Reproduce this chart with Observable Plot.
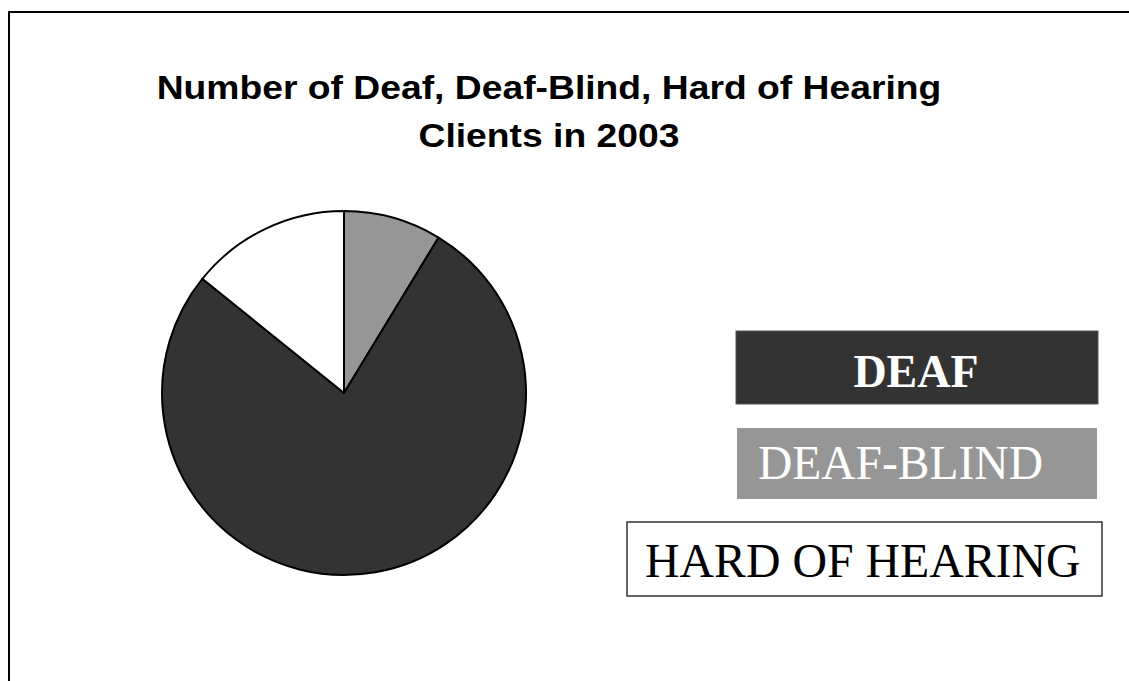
<!DOCTYPE html>
<html><head><meta charset="utf-8">
<script src="https://cdn.jsdelivr.net/npm/d3@7"></script>
<script src="https://cdn.jsdelivr.net/npm/@observablehq/plot@0.6"></script>
<style>
html,body{margin:0;padding:0;background:#fff;overflow:hidden;}
#wrap{position:relative;width:1129px;height:681px;overflow:hidden;background:#fff;}
#frame{position:absolute;left:8px;top:11px;width:1300px;height:900px;border-left:2px solid #000;border-top:2px solid #000;box-sizing:border-box;}
#title{position:absolute;left:0;top:63px;width:1098px;text-align:center;font-family:"Liberation Sans",Arial,sans-serif;font-weight:bold;font-size:34px;line-height:48px;color:#000;transform:scaleX(1.096);transform-origin:549px 0;}
#chart{position:absolute;left:0;top:0;}
#legend{position:absolute;left:0;top:0;}
</style></head>
<body>
<div id="wrap">
  <div id="frame"></div>
  <div id="title">Number of Deaf, Deaf-Blind, Hard of Hearing<br>Clients in 2003</div>
  <div id="chart"></div>
  <svg id="legend" width="1129" height="681"></svg>
</div>
<script>
// Data (shares, percent)
const categories = ["DEAF", "DEAF-BLIND", "HARD OF HEARING"];
const values = [77.1, 8.7, 14.2];
const colors = ["#333333", "#969696", "#ffffff"];
const textColors = ["#ffffff", "#ffffff", "#000000"];
const pieOrder = ["DEAF-BLIND", "DEAF", "HARD OF HEARING"]; // clockwise from 12 o'clock

const data = pieOrder.map(c => {
  const i = categories.indexOf(c);
  return {category: c, value: values[i], color: colors[i]};
});

const pieMark = (index, scales, values_, dimensions) => {
  const cx = scales.x(0), cy = scales.y(0);
  const r = Math.abs(scales.x(1) - scales.x(0));
  const arcs = d3.pie().sort(null).value(d => d.value)(data);
  const arc = d3.arc().innerRadius(0).outerRadius(r);
  const g = d3.create("svg:g").attr("transform", `translate(${cx},${cy})`);
  g.selectAll("path").data(arcs).join("path")
    .attr("d", arc)
    .attr("fill", d => scales.color(d.data.category))
    .attr("stroke", "#000")
    .attr("stroke-width", 2)
    .attr("stroke-linejoin", "round");
  return g.node();
};

const plot = Plot.plot({
  width: 1129,
  height: 681,
  margin: 0,
  style: {background: "transparent", overflow: "visible"},
  x: {domain: [-1, 1], range: [162, 526], axis: null},
  y: {domain: [-1, 1], range: [575, 211], axis: null},
  color: {domain: categories, range: colors},
  marks: [pieMark]
});
document.getElementById("chart").appendChild(plot);

// Legend boxes
const boxes = [
  {x: 736, y: 331, w: 362, h: 73, stroke: "#555", sw: 1, tx: 916, anchor: "middle", ty: 387, weight: "bold", size: 46},
  {x: 737, y: 428, w: 360, h: 71, stroke: "none", sw: 0, tx: 758, anchor: "start", ty: 479, weight: "normal", size: 47.5},
  {x: 627, y: 522, w: 475, h: 74, stroke: "#333", sw: 1.5, tx: 645, anchor: "start", ty: 577, weight: "normal", size: 47.8}
];
const leg = d3.select("#legend");
categories.forEach((c, i) => {
  const b = boxes[i];
  leg.append("rect").attr("x", b.x).attr("y", b.y).attr("width", b.w).attr("height", b.h)
    .attr("fill", colors[i]).attr("stroke", b.stroke).attr("stroke-width", b.sw);
  leg.append("text").attr("x", b.tx).attr("y", b.ty).attr("text-anchor", b.anchor)
    .attr("font-family", "'Liberation Serif','Times New Roman',serif")
    .attr("font-weight", b.weight).attr("font-size", b.size)
    .attr("fill", textColors[i]).text(c);
});
</script>
</body></html>
